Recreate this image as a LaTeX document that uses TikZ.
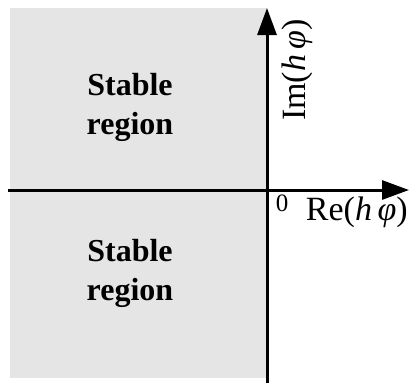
\documentclass[tikz,border=0pt]{standalone}
\usepackage{fontspec}
\setmainfont{Liberation Serif}
\usetikzlibrary{arrows.meta}
\begin{document}
\begin{tikzpicture}[x=1pt,y=1pt,
  axis/.style={line width=3pt,-{Triangle[length=27pt,width=19pt]}},
  region/.style={font=\fontsize{32}{39}\selectfont\bfseries,align=center},
  lbl/.style={font=\fontsize{34}{40}\selectfont,inner sep=0pt}]
\useasboundingbox (0,0) rectangle (409,-383);
\fill[fill=black!10] (10,-8) rectangle (267,-378);
\coordinate (xs) at (8,-190);
\coordinate (xe) at (409,-190);
\coordinate (ys) at (267,-383);
\coordinate (ye) at (267,-8);
\draw[axis] (xs) -- (xe);
\draw[axis] (ys) -- (ye);
\node[region] (r1) at (130,-107) {Stable\\region};
\node[region] (r2) at (130,-273) {Stable\\region};
\node[lbl,font=\fontsize{25}{28}\selectfont] (o) at (282,-203) {0};
\node[lbl,anchor=east] (re) at (408,-212) {Re(\textit{h\,φ})};
\node[lbl,rotate=90] (im) at (297,-70) {Im(\textit{h\,φ})};
\end{tikzpicture}
\end{document}
